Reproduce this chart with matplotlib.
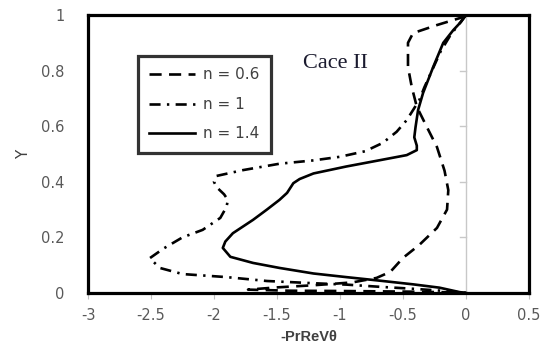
import matplotlib
matplotlib.use("Agg")
import matplotlib.pyplot as plt

# n = 0.6 (dashed)
x_n06 = [0.0, -0.02, -0.23, -0.42, -0.46, -0.46, -0.43, -0.39, -0.31, -0.23, -0.17, -0.14, -0.15,
         -0.23, -0.37, -0.50, -0.60, -0.71, -0.90, -1.20, -1.50, -1.73, -1.40, -1.00, -0.50, -0.20, 0.0]
y_n06 = [1.0, 0.993, 0.964, 0.935, 0.90, 0.813, 0.741, 0.67, 0.597, 0.525, 0.44, 0.37, 0.30,
         0.234, 0.173, 0.126, 0.076, 0.054, 0.038, 0.028, 0.020, 0.012, 0.008, 0.007, 0.005, 0.003, 0.0]

# n = 1 (dash-dot)
x_n1 = [0.0, -0.05, -0.12, -0.20, -0.27, -0.33, -0.37, -0.47, -0.55, -0.66, -0.80, -1.00, -1.21,
        -1.48, -1.77, -1.98, -2.00, -1.98, -1.92, -1.89, -1.90, -1.95, -2.09, -2.25, -2.40, -2.51,
        -2.43, -2.25, -1.90, -1.58, -1.21, -0.95, -0.68, -0.42, -0.16, 0.0]
y_n1 = [1.0, 0.97, 0.93, 0.87, 0.80, 0.74, 0.694, 0.622, 0.58, 0.54, 0.51, 0.49, 0.477,
        0.465, 0.442, 0.421, 0.40, 0.381, 0.355, 0.335, 0.31, 0.27, 0.227, 0.20, 0.16, 0.125,
        0.09, 0.068, 0.057, 0.043, 0.035, 0.030, 0.022, 0.015, 0.007, 0.0]

# n = 1.4 (solid)
x_n14 = [0.0, -0.04, -0.10, -0.18, -0.26, -0.34, -0.38, -0.40, -0.41, -0.39, -0.39, -0.47, -0.68,
         -0.95, -1.21, -1.32, -1.37, -1.42, -1.48, -1.58, -1.69, -1.85, -1.91, -1.93, -1.87, -1.69,
         -1.48, -1.21, -0.95, -0.68, -0.42, -0.21, -0.05, 0.0]
y_n14 = [1.0, 0.975, 0.946, 0.90, 0.813, 0.72, 0.658, 0.597, 0.56, 0.53, 0.514, 0.496, 0.478,
         0.455, 0.43, 0.41, 0.395, 0.36, 0.335, 0.30, 0.263, 0.215, 0.185, 0.162, 0.13, 0.108,
         0.09, 0.07, 0.057, 0.044, 0.031, 0.019, 0.003, 0.0]

x_ticks = [-3, -2.5, -2, -1.5, -1, -0.5, 0, 0.5]
x_ticklabels = ["-3", "-2.5", "-2", "-1.5", "-1", "-0.5", "0", "0.5"]
y_ticks = [0, 0.2, 0.4, 0.6, 0.8, 1]
y_ticklabels = ["0", "0.2", "0.4", "0.6", "0.8", "1"]
labels = ["n = 0.6", "n = 1", "n = 1.4"]

fig = plt.figure(figsize=(5.45, 3.5), dpi=100)
ax = fig.add_axes([0.1615, 0.163, 0.809, 0.794])

lw = 1.9
ax.plot(x_n06, y_n06, color="black", lw=lw, dashes=(4.6, 2.8), label=labels[0])
ax.plot(x_n1, y_n1, color="black", lw=lw, dashes=(4.2, 2.4, 0.9, 2.4), label=labels[1])
ax.plot(x_n14, y_n14, color="black", lw=lw, label=labels[2])

ax.set_xlim(-3, 0.5)
ax.set_ylim(0, 1)
ax.axvline(0, color="#c8c8c8", lw=1, zorder=0)
for yt in y_ticks[1:-1]:
    ax.plot([-0.045, 0], [yt, yt], color="#c8c8c8", lw=1, zorder=0)

ax.set_xticks(x_ticks)
ax.set_xticklabels(x_ticklabels)
ax.set_yticks(y_ticks)
ax.set_yticklabels(y_ticklabels)
ax.tick_params(axis="x", length=4, color="#c0c0c0", labelsize=10.5, labelcolor="#595959", pad=7)
ax.tick_params(axis="y", length=0, labelsize=10.5, labelcolor="#595959", pad=17)
for s in ax.spines.values():
    s.set_linewidth(2.3)
    s.set_color("black")

ax.set_xlabel("-PrReVθ", fontsize=10.5, color="#404040", fontweight="bold",
              family="Liberation Sans", labelpad=5)
ax.set_ylabel("Y", fontsize=11, color="#404040")
ax.yaxis.set_label_coords(-0.13, 0.5)

ax.text(-1.29, 0.826, "Cace II", family="Liberation Serif", fontsize=16, color="#1a1a2e",
        va="center", ha="left")

leg = ax.legend(loc="upper left", bbox_to_anchor=(0.113, 0.853), fontsize=11, frameon=True,
                fancybox=False, edgecolor="black", handlelength=3.0, handletextpad=0.5,
                borderpad=0.75, labelspacing=0.95, borderaxespad=0, labelcolor="#404040")
leg.get_frame().set_linewidth(2.3)

fig.savefig("out.png", dpi=100)
